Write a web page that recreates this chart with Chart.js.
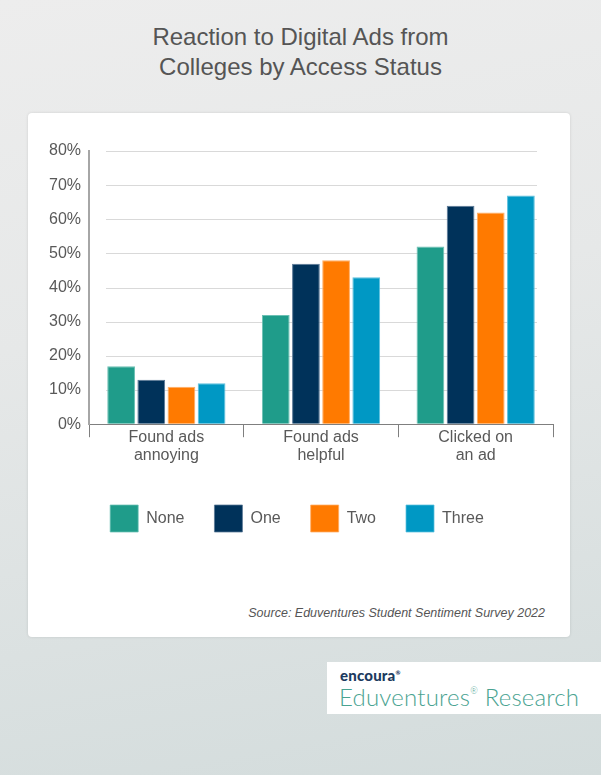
<!DOCTYPE html>
<html>
<head>
<meta charset="utf-8">
<script src="https://cdn.jsdelivr.net/npm/chart.js@4/dist/chart.umd.min.js"></script>
<style>
  html, body { margin: 0; padding: 0; }
  body {
    width: 601px; height: 775px; position: relative; overflow: hidden;
    background: linear-gradient(170deg, #ededed 0%, #e6e8e8 40%, #d3dcdc 100%);
    font-family: "Liberation Sans", Arial, sans-serif;
  }
  .title {
    position: absolute; left: 0; top: 22px; width: 601px; text-align: center;
    font-size: 24px; line-height: 30px; color: #555;
  }
  .card {
    position: absolute; left: 28px; top: 113px; width: 542px; height: 524px;
    background: #fff; border-radius: 4px; box-shadow: 0 0 3px rgba(0,0,0,0.12);
  }
  .chart-box { position: absolute; left: 0; top: 0; width: 542px; height: 429px; }
  .source {
    position: absolute; right: 25px; top: 493px;
    font-size: 12.5px; font-style: italic; color: #555;
  }
  .logo {
    position: absolute; left: 327px; top: 662px; width: 274px; height: 52px; background: #fff;
  }
  .logo .brand {
    position: absolute; left: 13px; top: 4px; font-family: "Lato", sans-serif; font-weight: 900;
    font-size: 15px; color: #1c3a5e; letter-spacing: 0.2px;
  }
  .logo .name {
    position: absolute; left: 12px; top: 20px; font-family: "Lato", sans-serif; font-weight: 300;
    font-size: 24px; color: #4aa391; letter-spacing: 0.2px; white-space: nowrap;
  }
  .logo .name sup { font-size: 9px; vertical-align: 12px; }
</style>
</head>
<body>
<div class="title">Reaction to Digital Ads from<br>Colleges by Access Status</div>
<div class="card">
  <div class="chart-box"><canvas id="adsChart"></canvas></div>
  <div class="source">Source: Eduventures Student Sentiment Survey 2022</div>
</div>
<div class="logo">
  <div class="brand">encoura<sup style="font-size:6px">®</sup></div>
  <div class="name">Eduventures<sup>®</sup> Research</div>
</div>
<script>
// --- Dados ---
const categories = [['Found ads', 'annoying'], ['Found ads', 'helpful'], ['Clicked on', 'an ad']];
const seriesNames = ['None', 'One', 'Two', 'Three'];
const noneValues = [17, 32, 52];
const oneValues = [13, 47, 64];
const twoValues = [11, 48, 62];
const threeValues = [12, 43, 67];
const yTicks = [0, 10, 20, 30, 40, 50, 60, 70, 80];

const fillColors = ['#1f9c8a', '#00325a', '#ff7a00', '#0098c4'];
const edgeColors = ['#6cc0b4', '#5a7896', '#ffae66', '#5cc0de'];
const seriesValues = [noneValues, oneValues, twoValues, threeValues];

// Linhas de grade recuadas (como no original)
const insetGrid = {
    id: 'insetGrid',
    beforeDatasetsDraw(chart) {
        const { ctx, chartArea, scales } = chart;
        ctx.save();
        ctx.strokeStyle = '#d9d9d9';
        ctx.lineWidth = 1;
        yTicks.forEach(v => {
            if (v === 0) return;
            const y = Math.round(scales.y.getPixelForValue(v)) + 0.5;
            ctx.beginPath();
            ctx.moveTo(chartArea.left + 17, y);
            ctx.lineTo(chartArea.right - 16, y);
            ctx.stroke();
        });
        ctx.restore();
    }
};

const ctx = document.getElementById('adsChart').getContext('2d');
new Chart(ctx, {
    type: 'bar',
    data: {
        labels: categories,
        datasets: seriesNames.map((name, i) => ({
            label: name,
            data: seriesValues[i],
            backgroundColor: fillColors[i],
            borderColor: edgeColors[i],
            borderWidth: { top: 1, left: 1, right: 1, bottom: 0 },
            barPercentage: 0.92,
            categoryPercentage: 0.78
        }))
    },
    options: {
        responsive: true,
        maintainAspectRatio: false,
        animation: false,
        layout: { padding: { left: 13, right: 17, top: 38, bottom: 0 } },
        scales: {
            x: {
                afterFit: (axis) => { axis.height += 19; },
                grid: {
                    offset: true,
                    drawOnChartArea: false,
                    drawTicks: true,
                    tickLength: 13,
                    color: '#7f7f7f'
                },
                border: { color: '#7f7f7f', width: 1 },
                ticks: {
                    color: '#595959',
                    padding: -9,
                    font: { family: '"Liberation Sans", Arial, sans-serif', size: 16, lineHeight: 1.15 }
                }
            },
            y: {
                min: 0,
                max: 80,
                afterBuildTicks: (axis) => { axis.ticks = yTicks.map(v => ({ value: v })); },
                grid: { drawOnChartArea: false, drawTicks: false },
                border: { color: '#a6a6a6', width: 2 },
                ticks: {
                    color: '#595959',
                    padding: 8,
                    font: { family: '"Liberation Sans", Arial, sans-serif', size: 16 },
                    callback: (v) => v + '%'
                }
            }
        },
        plugins: {
            legend: {
                position: 'bottom',
                labels: {
                    boxWidth: 28,
                    boxHeight: 27,
                    padding: 30,
                    color: '#595959',
                    font: { family: '"Liberation Sans", Arial, sans-serif', size: 16 }
                }
            },
            tooltip: { enabled: false }
        }
    },
    plugins: [insetGrid]
});
</script>
</body>
</html>
